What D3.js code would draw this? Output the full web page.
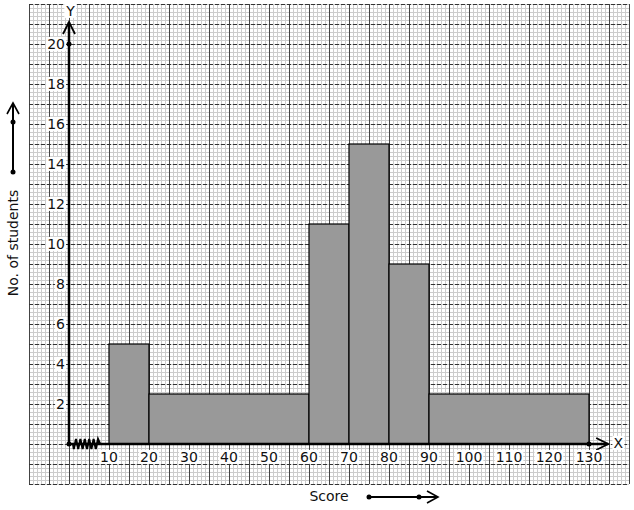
<!DOCTYPE html>
<html><head><meta charset="utf-8">
<script src="https://cdn.jsdelivr.net/npm/d3@7"></script>
<style>body{margin:0;background:#fff}svg{display:block}text{font-family:"DejaVu Sans",sans-serif}</style>
</head><body><svg id="c" width="634" height="510"></svg>
<script>
const binStart = [10, 20, 60, 70, 80, 90];
const binEnd   = [20, 60, 70, 80, 90, 130];
const heights  = [5, 2.5, 11, 15, 9, 2.5];
const xTicks = [10,20,30,40,50,60,70,80,90,100,110,120,130];
const yTicks = [2,4,6,8,10,12,14,16,18,20];
const xLabel = "Score", yLabel = "No. of students";

const svg = d3.select("#c");
const x = d3.scaleLinear().domain([0,130]).range([69,589]);
const y = d3.scaleLinear().domain([0,20]).range([444,44]);
const gx0=-10, gx1=140, gy0=-2, gy1=22;

const g = svg.append("g");
const minX = d3.range(gx0, gx1+0.001, 1);
const minY = d3.range(gy0, gy1+0.001, 0.2);
g.selectAll(".mx").data(minX).join("line")
 .attr("x1",d=>x(d)+0.5).attr("x2",d=>x(d)+0.5).attr("y1",y(gy0)).attr("y2",y(gy1))
 .attr("stroke","#cccccc").attr("stroke-width",1);
g.selectAll(".my").data(minY).join("line")
 .attr("y1",d=>Math.round(y(d))+0.5).attr("y2",d=>Math.round(y(d))+0.5).attr("x1",x(gx0)).attr("x2",x(gx1))
 .attr("stroke","#cccccc").attr("stroke-width",1);
g.selectAll(".Mx").data(d3.range(gx0, gx1+0.001, 5)).join("line")
 .attr("x1",d=>x(d)+0.5).attr("x2",d=>x(d)+0.5).attr("y1",y(gy0)).attr("y2",y(gy1))
 .attr("stroke","#444").attr("stroke-width",1);
g.selectAll(".My").data(d3.range(gy0, gy1+0.001, 1)).join("line")
 .attr("y1",d=>y(d)+0.5).attr("y2",d=>y(d)+0.5).attr("x1",x(gx0)).attr("x2",x(gx1))
 .attr("stroke","#333").attr("stroke-width",1).attr("stroke-dasharray","4,2");

svg.selectAll(".bar").data(heights).join("rect")
 .attr("x",(d,i)=>x(binStart[i])).attr("width",(d,i)=>x(binEnd[i])-x(binStart[i]))
 .attr("y",d=>y(d)).attr("height",d=>y(0)-y(d))
 .attr("fill","#999999").attr("stroke","#000").attr("stroke-width",1.2);

const ax = svg.append("g").attr("stroke","#000").attr("fill","none");
ax.append("line").attr("x1",x(0)).attr("x2",x(134.8)).attr("y1",y(0)).attr("y2",y(0)).attr("stroke-width",2.5);
ax.append("line").attr("x1",x(0)).attr("x2",x(0)).attr("y1",y(0)).attr("y2",y(21.1)).attr("stroke-width",2.5);
const xa = x(134.8), ya = y(0);
ax.append("path").attr("d",`M${xa-12},${ya-6}L${xa},${ya}L${xa-12},${ya+6}`).attr("stroke-width",1.8);
const yx = x(0), yy = y(21.1);
ax.append("path").attr("d",`M${yx-6},${yy+12}L${yx},${yy}L${yx+6},${yy+12}`).attr("stroke-width",1.8);
let zz = `M${x(1)},${y(0)}`;
for (let i=0;i<12;i++){ const xv = x(1.2)+i*2.2; zz += `L${xv},${y(0)+(i%2?-5:5)}`; }
zz += `L${x(7.8)},${y(0)}`;
ax.append("path").attr("d",zz).attr("stroke-width",2);
svg.selectAll(".dot").data([[0,0],[0,20],[130,0]]).join("circle")
 .attr("cx",d=>x(d[0])).attr("cy",d=>y(d[1])).attr("r",2.5).attr("fill","#000");

function boxed(parent, tx, px, py, anchor){
  const gg = parent.append("g");
  const t = gg.append("text").attr("x",px).attr("y",py).attr("dy","0.35em").attr("text-anchor",anchor)
    .attr("font-size",14).attr("fill","#111").text(tx);
  const b = t.node().getBBox();
  gg.insert("rect","text").attr("x",b.x-1).attr("y",b.y+1).attr("width",b.width+2).attr("height",b.height-2).attr("fill","#fff");
}
const tl = svg.append("g");
yTicks.forEach(v=>boxed(tl, v, x(0)-4, y(v), "end"));
xTicks.forEach(v=>boxed(tl, v, x(v), y(0)+13, "middle"));
boxed(tl, "Y", x(0.4), 11, "middle");
boxed(tl, "X", x(137.3), y(0)-1, "middle");

svg.append("text").attr("x",329).attr("y",496).attr("dy","0.35em").attr("text-anchor","middle")
 .attr("font-size",14).attr("fill","#111").text(xLabel);
svg.append("text").attr("transform","translate(13,243) rotate(-90)").attr("dy","0.35em").attr("text-anchor","middle")
 .attr("font-size",14).attr("fill","#111").text(yLabel);
const da = svg.append("g").attr("stroke","#000").attr("fill","none").attr("stroke-width",2);
da.append("line").attr("x1",369).attr("x2",437).attr("y1",497).attr("y2",497);
da.append("path").attr("d","M427,491L438,497L427,503").attr("stroke-width",1.6);
da.append("line").attr("x1",13).attr("x2",13).attr("y1",172).attr("y2",104);
da.append("path").attr("d","M7,114L13,103L19,114").attr("stroke-width",1.6);
svg.selectAll(".dd").data([[369,497],[419,497],[13,172],[13,122]]).join("circle")
 .attr("cx",d=>d[0]).attr("cy",d=>d[1]).attr("r",2.5).attr("fill","#000");
</script></body></html>
